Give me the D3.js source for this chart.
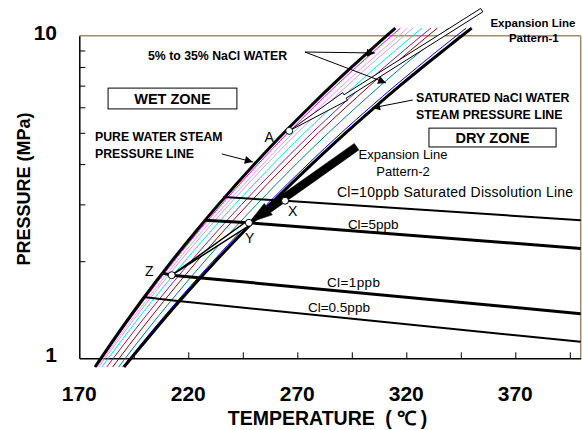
<!DOCTYPE html>
<html lang="en">
<head>
<meta charset="utf-8">
<title>NaCl water steam pressure</title>
<script src="https://d3js.org/d3.v7.min.js"></script>
<style>
  body { margin: 0; background: #fff; }
  svg { font-family: Arial, "Liberation Sans", sans-serif; }
  .b { font-weight: bold; }
</style>
</head>
<body>
<div id="chart"></div>
<script>
// pressure points (MPa) shared by every saturation curve
var pressures = [0.94, 1, 1.5, 2, 2.5, 3, 4, 5, 6, 7, 8, 9, 10, 10.56];

// saturation temperatures (C)
var pureWater = [177.2, 179.9, 198.3, 212.4, 224.0, 233.9, 250.4, 263.9, 275.6, 285.8, 295.0, 303.4, 311.0, 315.0];
var brine1 = [177.7, 180.4, 199.1, 213.4, 225.2, 235.3, 252.0, 265.7, 277.5, 287.8, 297.1, 305.6, 313.3, 317.3];
var brine2 = [178.3, 181.1, 200.3, 214.9, 226.9, 237.2, 254.2, 268.1, 280.2, 290.6, 300.1, 308.7, 316.5, 320.6];
var brine3 = [179.0, 181.9, 201.4, 216.2, 228.4, 238.8, 256.0, 270.1, 282.3, 292.9, 302.4, 311.1, 319.0, 323.1];
var brine4 = [180.4, 183.3, 203.2, 218.4, 230.8, 241.4, 259.0, 273.3, 285.7, 296.5, 306.2, 315.0, 323.0, 327.2];
var brine5 = [182.6, 185.6, 205.8, 221.2, 233.8, 244.5, 262.3, 276.8, 289.3, 300.2, 310.0, 318.9, 327.0, 331.3];
var brine6 = [185.3, 188.3, 208.6, 224.0, 236.6, 247.4, 265.2, 279.7, 292.3, 303.2, 313.0, 321.9, 330.0, 334.3];
var brine7 = [188.1, 191.1, 211.8, 227.5, 240.4, 251.4, 269.5, 284.3, 297.0, 308.1, 318.0, 327.1, 335.3, 339.6];
var brine8 = [189.9, 193.1, 214.8, 231.3, 244.7, 256.1, 274.9, 290.2, 303.4, 314.9, 325.2, 334.5, 343.0, 347.5];
var saturatedNaCl = [190.5, 193.8, 215.8, 232.5, 246.1, 257.6, 276.7, 292.2, 305.5, 317.1, 327.5, 337.0, 345.5, 350.0];

// chloride dissolution lines [temperature, pressure]
var cl10 = [[236.1, 3.16], [264.4, 3.08], [400, 2.68]];
var cl5 = [[227.7, 2.68], [247.8, 2.63], [400, 2.19]];
var cl1 = [[207.8, 1.84], [212.4, 1.81], [400, 1.375]];
var cl05 = [[199.4, 1.55], [213.1, 1.51], [400, 1.125]];

// state points
var pointNames = ["A", "X", "Y", "Z"];
var pointT = [266.3, 264.4, 247.8, 212.4];
var pointP = [5.07, 3.08, 2.63, 1.81];

// expansion lines [temperature, pressure]: tip, head base, tail
var pattern1 = [[266.3, 5.07], [291.9, 6.48], [354.6, 12.0]];
var pattern2 = [[247.8, 2.63], [256.7, 2.90], [297.2, 4.53]];

var tempLabels = [170, 220, 270, 320, 370];
var tempTicks = [195, 220, 245, 270, 295, 320, 345, 370, 395];
var presTicks = [2, 3, 4, 5, 6, 7, 8, 9];
var presLabels = [1, 10];

var width = 582, height = 430;
var svg = d3.select("#chart").append("svg")
    .attr("width", width).attr("height", height);

var x = d3.scaleLinear().domain([170, 400]).range([79.3, 580.7]);
var y = d3.scaleLog().domain([1, 10]).range([358.3, 35.7]);

// markers for pointer arrows
svg.append("defs").append("marker")
    .attr("id", "head")
    .attr("viewBox", "0 0 10 10")
    .attr("refX", 10).attr("refY", 5)
    .attr("markerWidth", 12).attr("markerHeight", 8)
    .attr("markerUnits", "userSpaceOnUse")
    .attr("orient", "auto")
  .append("path").attr("d", "M0,0L10,5L0,10z").attr("fill", "#000");

// frame
svg.append("line").attr("x1", x(170)).attr("x2", x(400)).attr("y1", y(10)).attr("y2", y(10))
    .attr("stroke", "#a58a6a").attr("stroke-width", 1.5);
svg.append("line").attr("x1", x(400)).attr("x2", x(400)).attr("y1", y(10)).attr("y2", y(1))
    .attr("stroke", "#a58a6a").attr("stroke-width", 1.5);

// axes (ticks pointing inward)
svg.append("g")
    .attr("transform", "translate(0," + y(1) + ")")
    .call(d3.axisBottom(x).tickValues(tempTicks).tickSize(-6).tickFormat("").tickSizeOuter(0))
    .call(function(g) { g.select(".domain").attr("stroke-width", 1.5); });
svg.append("g")
    .attr("transform", "translate(" + x(170) + ",0)")
    .call(d3.axisLeft(y).tickValues(presTicks).tickSize(-6).tickFormat("").tickSizeOuter(0))
    .call(function(g) { g.select(".domain").attr("stroke-width", 1.5); });

svg.selectAll(".tlab").data(tempLabels).enter().append("text")
    .attr("class", "b")
    .attr("x", function(d) { return x(d); })
    .attr("y", 401)
    .attr("text-anchor", "middle")
    .style("font-size", "21px")
    .text(function(d) { return d; });

svg.selectAll(".plab").data(presLabels).enter().append("text")
    .attr("class", "b")
    .attr("x", 57)
    .attr("y", function(d) { return y(d) + 4; })
    .attr("text-anchor", "end")
    .style("font-size", "21px")
    .text(function(d) { return d; });

var xTitle = svg.append("text").attr("class", "b")
    .attr("x", 330).attr("y", 425)
    .attr("text-anchor", "middle")
    .style("font-size", "19.5px");
xTitle.append("tspan").text("TEMPERATURE");
xTitle.append("tspan").style("letter-spacing", "5px").text(" (℃)");

svg.append("text").attr("class", "b")
    .attr("transform", "translate(30,189) rotate(-90)")
    .attr("text-anchor", "middle")
    .style("font-size", "18px")
    .text("PRESSURE  (MPa)");

// saturation curves
var curveLine = d3.line()
    .x(function(d) { return x(d[0]); })
    .y(function(d) { return y(d[1]); })
    .curve(d3.curveMonotoneY);

var curves = [
  { t: brine1, color: "#ff00ff", w: 1 },
  { t: brine2, color: "#f09cf0", w: 1 },
  { t: brine3, color: "#c8a0e0", w: 1 },
  { t: brine4, color: "#00e8f0", w: 1 },
  { t: brine5, color: "#8b1a9a", w: 1 },
  { t: brine6, color: "#990000", w: 1 },
  { t: brine7, color: "#008080", w: 1 },
  { t: brine8, color: "#0000ff", w: 1 },
  { t: pureWater, color: "#000", w: 3 },
  { t: saturatedNaCl, color: "#000", w: 3 }
];

svg.selectAll(".curve").data(curves).enter().append("path")
    .attr("d", function(c) { return curveLine(c.t.map(function(t, i) { return [t, pressures[i]]; })); })
    .attr("fill", "none")
    .attr("stroke", function(c) { return c.color; })
    .attr("stroke-width", function(c) { return c.w; });

// chloride lines
var clLine = d3.line()
    .x(function(d) { return x(d[0]); })
    .y(function(d) { return y(d[1]); });
[[cl10, 2], [cl5, 3], [cl1, 3], [cl05, 2]].forEach(function(c) {
  svg.append("path").attr("d", clLine(c[0]))
      .attr("fill", "none").attr("stroke", "#000").attr("stroke-width", c[1]);
});

// helper: arrow polygon in pixel space
function arrowPoly(pts, headW, shaftW) {
  var p = pts.map(function(d) { return [x(d[0]), y(d[1])]; });
  var dx = p[2][0] - p[0][0], dy = p[2][1] - p[0][1];
  var len = Math.sqrt(dx * dx + dy * dy);
  var nx = -dy / len, ny = dx / len;
  function off(q, w) { return [q[0] + nx * w, q[1] + ny * w]; }
  return [p[0], off(p[1], headW), off(p[1], shaftW), off(p[2], shaftW),
          off(p[2], -shaftW), off(p[1], -shaftW), off(p[1], -headW)];
}

// Expansion line pattern-1 (hollow)
svg.append("polygon")
    .attr("points", arrowPoly(pattern1, 4.5, 2).join(" "))
    .attr("fill", "#fff").attr("stroke", "#000").attr("stroke-width", 1);

// Z - Y wedge
(function() {
  var z = [x(pointT[3]), y(pointP[3])], yy = [x(pointT[2]), y(pointP[2])];
  var dx = yy[0] - z[0], dy = yy[1] - z[1], len = Math.sqrt(dx * dx + dy * dy);
  var nx = -dy / len * 2.5, ny = dx / len * 2.5;
  svg.append("polygon")
      .attr("points", [z, [yy[0] + nx, yy[1] + ny], [yy[0] - nx, yy[1] - ny]].join(" "))
      .attr("fill", "#fff").attr("stroke", "#000").attr("stroke-width", 1.5);
})();

// Expansion line pattern-2 (solid)
svg.append("polygon")
    .attr("points", arrowPoly(pattern2, 7, 4).join(" "))
    .attr("fill", "#000").attr("stroke", "#000").attr("stroke-width", 0.5);

// state points
svg.selectAll(".pt").data(pointNames).enter().append("circle")
    .attr("cx", function(d, i) { return x(pointT[i]); })
    .attr("cy", function(d, i) { return y(pointP[i]); })
    .attr("r", 3.5)
    .attr("fill", "#fff").attr("stroke", "#000").attr("stroke-width", 1);

var labelPos = { A: [254.9, 4.69], X: [265.7, 2.76], Y: [246.0, 2.28], Z: [200.1, 1.80] };
pointNames.forEach(function(n) {
  svg.append("text").attr("x", x(labelPos[n][0])).attr("y", y(labelPos[n][1]))
      .style("font-size", "14px").text(n);
});

// pointer arrows
function pointer(from, to) {
  svg.append("line")
      .attr("x1", x(from[0])).attr("y1", y(from[1]))
      .attr("x2", x(to[0])).attr("y2", y(to[1]))
      .attr("stroke", "#000").attr("stroke-width", 1)
      .attr("marker-end", "url(#head)");
}
pointer([273.5, 8.9], [305.6, 8.84]);
pointer([273.5, 8.9], [310.7, 7.14]);
pointer([323, 6.32], [304.3, 5.97]);
pointer([235.4, 4.30], [249.6, 4.06]);

// text annotations
function label(t, p, str, opts) {
  var el = svg.append("text").attr("x", x(t)).attr("y", y(p))
      .style("font-size", opts.size + "px")
      .attr("text-anchor", opts.anchor || "start")
      .text(str);
  if (opts.bold) el.attr("class", "b");
  if (opts.ls) el.style("letter-spacing", opts.ls + "px");
  return el;
}
label(201.5, 8.41, "5% to 35% NaCl WATER", { size: 12.3, bold: true });
label(177.2, 4.72, "PURE WATER STEAM", { size: 12.3, bold: true });
label(177.2, 4.18, "PRESSURE LINE", { size: 12.3, bold: true });
label(324.4, 6.23, "SATURATED NaCl WATER", { size: 12.4, bold: true });
label(324.4, 5.5, "STEAM PRESSURE LINE", { size: 12.4, bold: true });
label(378.1, 10.64, "Expansion Line", { size: 11.5, bold: true, anchor: "middle" });
label(378.5, 9.56, "Pattern-1", { size: 11.5, bold: true, anchor: "middle" });
label(318.5, 4.15, "Expansion Line", { size: 13, anchor: "middle" });
label(318.5, 3.67, "Pattern-2", { size: 13, anchor: "middle" });
label(288.2, 3.16, "Cl=10ppb Saturated Dissolution Line", { size: 14, ls: 0.25 });
label(293.2, 2.52, "Cl=5ppb", { size: 13.5 });
label(283.6, 1.66, "Cl=1ppb", { size: 13.5, ls: 0.4 });
label(274.9, 1.39, "Cl=0.5ppb", { size: 13.5 });

// zone boxes
function zone(t1, t2, p1, p2, str) {
  svg.append("rect")
      .attr("x", x(t1)).attr("y", y(p1))
      .attr("width", x(t2) - x(t1)).attr("height", y(p2) - y(p1))
      .attr("fill", "#fff").attr("stroke", "#000").attr("stroke-width", 1);
  svg.append("text").attr("class", "b")
      .attr("x", (x(t1) + x(t2)) / 2).attr("y", (y(p1) + y(p2)) / 2 + 5)
      .attr("text-anchor", "middle")
      .style("font-size", "14.5px")
      .text(str);
}
zone(183.2, 242.3, 6.88, 5.93, "WET ZONE");
zone(330.4, 388.7, 5.17, 4.52, "DRY ZONE");
</script>
</body>
</html>
